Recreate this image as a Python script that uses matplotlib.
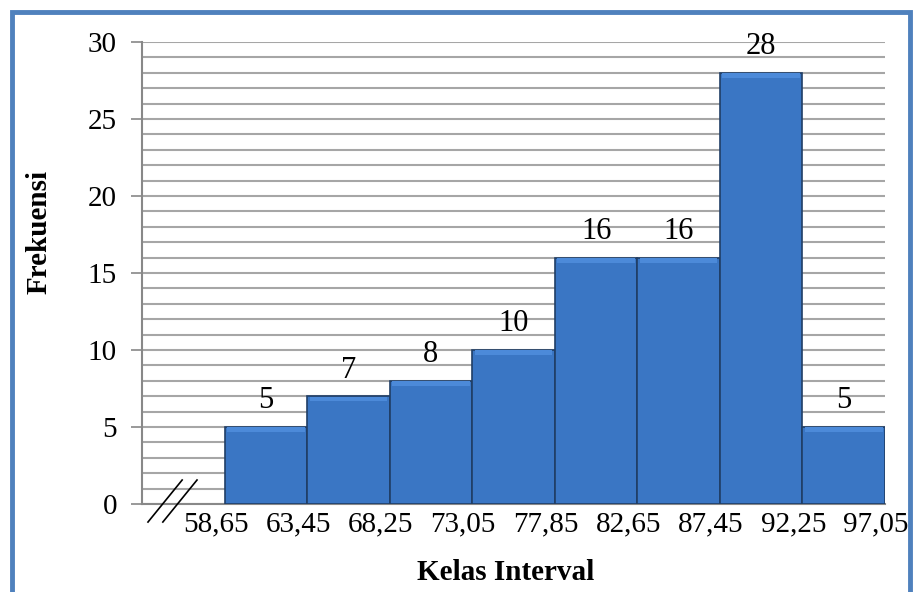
import matplotlib.pyplot as plt
from matplotlib.patches import Rectangle
import numpy as np

plt.rcParams['font.family'] = ['Liberation Serif', 'DejaVu Serif']

# data
batas = ['58,65', '63,45', '68,25', '73,05', '77,85', '82,65', '87,45', '92,25', '97,05']
frekuensi = [5, 7, 8, 10, 16, 16, 28, 5]

fig = plt.figure(figsize=(9.14, 5.92), dpi=100)
ax = fig.add_axes([0.1554, 0.1486, 0.8129, 0.7804])

# frame around the whole chart
fig.patches.append(Rectangle((0.013, -0.02), 0.983, 1.0, transform=fig.transFigure,
                             fill=False, edgecolor='#4F81BD', linewidth=3.5))

x = np.arange(1, len(frekuensi) + 1)
ax.bar(x, frekuensi, width=1.0, align='edge', color='#3A76C4',
       edgecolor='#203E66', linewidth=1.2, zorder=3)
# subtle lighter bevel at top of each bar
ax.bar(x + 0.03, [0.3] * len(frekuensi), bottom=np.array(frekuensi) - 0.33, width=0.94,
       align='edge', color='#4C8AD9', linewidth=0, zorder=4)

for xi, f in zip(x, frekuensi):
    ax.text(xi + 0.5, f + 0.75, str(f), ha='center', va='bottom', fontsize=22, zorder=5)

ax.set_xlim(0, 9)
ax.set_ylim(0, 30)
ax.set_yticks(range(0, 31, 5))
ax.set_yticks(range(0, 31), minor=True)
ax.yaxis.grid(True, which='both', color='#A6A6A6', linewidth=1.5, zorder=0)
ax.tick_params(axis='y', which='major', labelsize=21, length=8, width=1.2,
               color='#888888', pad=10)
ax.tick_params(axis='y', which='minor', length=0)

ax.set_xticks(np.arange(1, 10) - 0.11)
ax.set_xticklabels(batas)
ax.tick_params(axis='x', length=0, labelsize=21, pad=5)

for s in ['top', 'right']:
    ax.spines[s].set_visible(False)
ax.spines['left'].set_color('#888888')
ax.spines['left'].set_linewidth(1.5)
ax.spines['bottom'].set_color('#888888')
ax.spines['bottom'].set_linewidth(1.5)

# axis break marks
for dx in [0.0, 0.02]:
    ax.plot([0.008 + dx, 0.054 + dx], [-0.039, 0.052], transform=ax.transAxes,
            color='black', linewidth=1.2, clip_on=False, zorder=6)

ax.set_ylabel('Frekuensi', fontsize=21, fontweight='bold')
ax.yaxis.set_label_coords(-0.12, 0.589)
ax.set_xlabel('Kelas Interval', fontsize=21, fontweight='bold')
ax.xaxis.set_label_coords(0.49, -0.118)

fig.savefig('out.png', dpi=100)
